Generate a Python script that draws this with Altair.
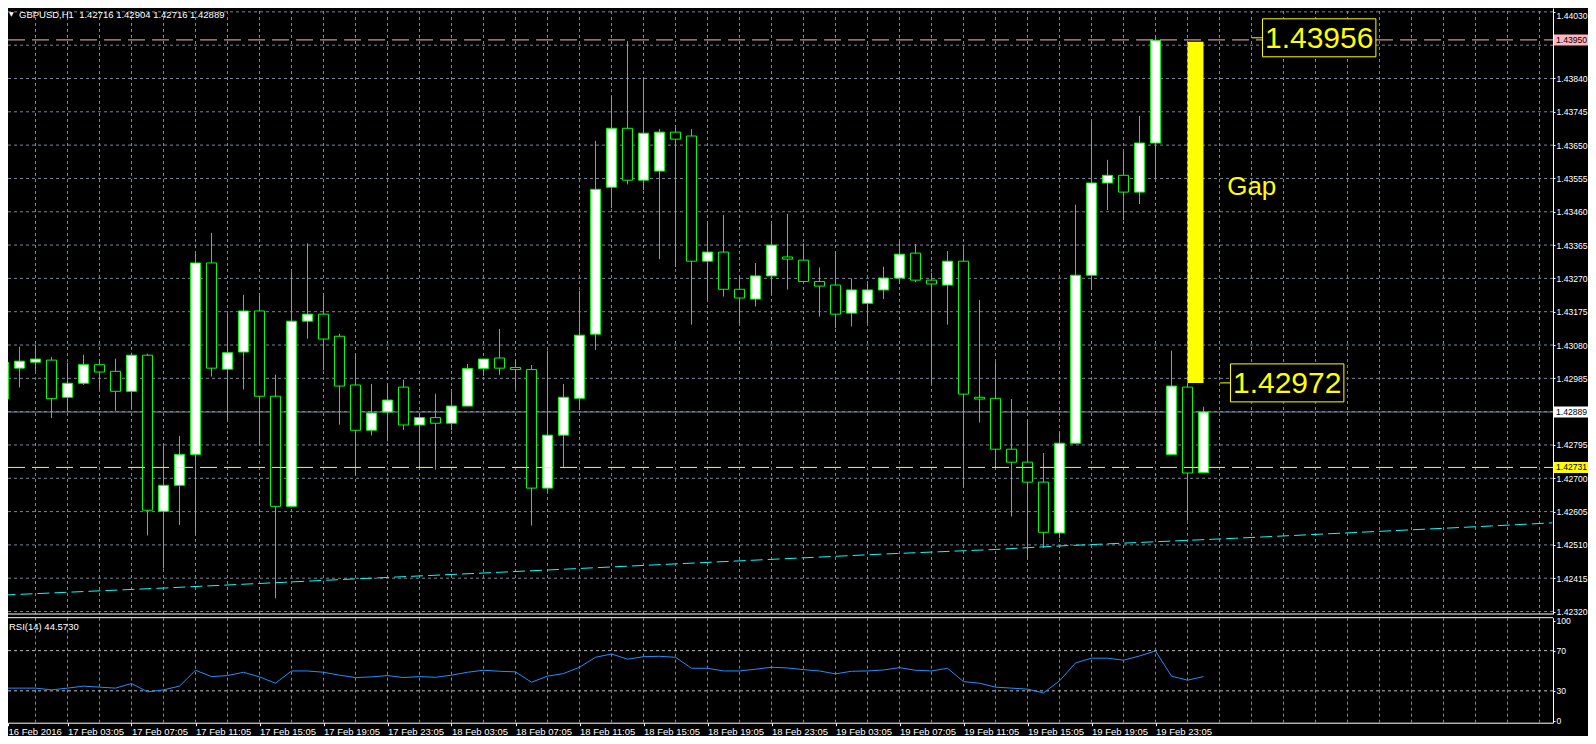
import altair as alt
import pandas as pd

# ---------------- data ----------------
title_text = "GBPUSD,H1\u00a0\u00a01.42716 1.42904 1.42716 1.42889"
rsi_title_text = "RSI(14) 44.5730"

opens = [1.42926, 1.43014, 1.43031, 1.43037, 1.42931, 1.42971, 1.43024, 1.43005, 1.42948, 1.43051,
         1.42606, 1.42680, 1.42768, 1.43314, 1.43011, 1.43060, 1.43177, 1.42934, 1.42620, 1.43148,
         1.43168, 1.43105, 1.42966, 1.42837, 1.42889, 1.42960, 1.42852, 1.42873, 1.42857, 1.42906,
         1.43013, 1.43043, 1.43016, 1.43010, 1.42672, 1.42823, 1.42928, 1.43111, 1.43530, 1.43698,
         1.43550, 1.43576, 1.43687, 1.43676, 1.43319, 1.43345, 1.43239, 1.43211, 1.43277, 1.43331,
         1.43322, 1.43261, 1.43251, 1.43171, 1.43199, 1.43237, 1.43271, 1.43342, 1.43265, 1.43251,
         1.43319, 1.42931, 1.42928, 1.42783, 1.42746, 1.42689, 1.42544, 1.42800, 1.43279, 1.43542,
         1.43564, 1.43516, 1.43656, 1.42768, 1.42960, 1.42716]
highs = [1.43071, 1.43075, 1.43081, 1.43046, 1.43030, 1.43052, 1.43036, 1.43041, 1.43058, 1.43055,
         1.42792, 1.42821, 1.43340, 1.43400, 1.43169, 1.43223, 1.43222, 1.42995, 1.43288, 1.43370,
         1.43223, 1.43112, 1.43054, 1.42969, 1.42969, 1.42981, 1.42886, 1.42941, 1.42946, 1.43026,
         1.43041, 1.43126, 1.43038, 1.43023, 1.43064, 1.42969, 1.43235, 1.43662, 1.43790, 1.43947,
         1.43841, 1.43696, 1.43701, 1.43696, 1.43431, 1.43451, 1.43279, 1.43314, 1.43425, 1.43454,
         1.43370, 1.43301, 1.43347, 1.43270, 1.43254, 1.43303, 1.43376, 1.43368, 1.43286, 1.43348,
         1.43356, 1.43208, 1.43031, 1.42926, 1.42863, 1.42772, 1.42829, 1.43480, 1.43716, 1.43608,
         1.43631, 1.43733, 1.43956, 1.43064, 1.42972, 1.42904]
lows = [1.42895, 1.42959, 1.43006, 1.42872, 1.42890, 1.42966, 1.42955, 1.42892, 1.42898, 1.42537,
        1.42443, 1.42567, 1.42539, 1.42990, 1.42864, 1.42953, 1.42796, 1.42358, 1.42617, 1.43098,
        1.43008, 1.42853, 1.42710, 1.42822, 1.42805, 1.42838, 1.42732, 1.42725, 1.42837, 1.42905,
        1.42992, 1.42995, 1.42955, 1.42565, 1.42662, 1.42732, 1.42895, 1.43066, 1.43470, 1.43538,
        1.43522, 1.43325, 1.43302, 1.43138, 1.43207, 1.43218, 1.43141, 1.43190, 1.43224, 1.43238,
        1.43258, 1.43161, 1.43128, 1.43133, 1.43141, 1.43211, 1.43254, 1.43259, 1.42970, 1.43138,
        1.42676, 1.42859, 1.42732, 1.42591, 1.42470, 1.42501, 1.42529, 1.42798, 1.43237, 1.43465,
        1.43436, 1.43482, 1.43553, 1.42766, 1.42579, 1.42716]
closes = [1.43031, 1.43034, 1.43040, 1.42927, 1.42971, 1.43024, 1.43003, 1.42948, 1.43051, 1.42609,
          1.42680, 1.42768, 1.43314, 1.43014, 1.43058, 1.43177, 1.42934, 1.42620, 1.43148, 1.43168,
          1.43097, 1.42963, 1.42837, 1.42886, 1.42923, 1.42852, 1.42873, 1.42857, 1.42906, 1.43013,
          1.43040, 1.43014, 1.43010, 1.42672, 1.42823, 1.42931, 1.43108, 1.43524, 1.43698, 1.43550,
          1.43684, 1.43687, 1.43667, 1.43319, 1.43345, 1.43239, 1.43214, 1.43277, 1.43365, 1.43325,
          1.43261, 1.43248, 1.43168, 1.43237, 1.43237, 1.43271, 1.43339, 1.43265, 1.43254, 1.43319,
          1.42940, 1.42926, 1.42783, 1.42746, 1.42689, 1.42546, 1.42800, 1.43279, 1.43542, 1.43564,
          1.43516, 1.43656, 1.43949, 1.42963, 1.42715, 1.42889]

rsi = [32.7, 32.7, 32.7, 31.0, 32.7, 34.7, 33.7, 32.7, 37.3, 29.0, 31.0, 34.7,
       50.5, 44.2, 45.2, 48.5, 43.9, 37.6, 49.8, 49.8, 48.5, 45.6, 43.2, 43.9,
       45.2, 43.2, 44.2, 43.5, 45.6, 48.5, 50.5, 49.5, 48.9, 38.6, 44.6, 47.2, 53.5, 63.4,
       66.7, 61.5, 64.0, 64.4, 63.4, 52.5, 52.5, 49.8, 49.8, 51.5, 53.5, 52.8,
       51.1, 49.8, 46.9, 49.5, 49.8, 50.8, 53.1, 50.5, 49.8, 52.5, 39.2, 37.6,
       33.7, 32.7, 31.7, 28.0, 39.9, 57.8, 62.5, 62.5, 60.5, 64.7, 69.7, 44.6, 40.6, 44.2]

ma_idx = [0, 10, 21, 31, 55, 62, 66, 77, 93, 96.8]
ma_val = [1.42367, 1.42387, 1.42411, 1.42432, 1.42484, 1.42497, 1.42507, 1.42529, 1.42564, 1.42573]

time_idx = [0, 4, 8, 12, 16, 20, 24, 28, 32, 36, 40, 44, 48, 52, 56, 60, 64, 68, 72]
time_labels = ["16 Feb 2016", "17 Feb 03:05", "17 Feb 07:05", "17 Feb 11:05", "17 Feb 15:05",
               "17 Feb 19:05", "17 Feb 23:05", "18 Feb 03:05", "18 Feb 07:05", "18 Feb 11:05",
               "18 Feb 15:05", "18 Feb 19:05", "18 Feb 23:05", "19 Feb 03:05", "19 Feb 07:05",
               "19 Feb 11:05", "19 Feb 15:05", "19 Feb 19:05", "19 Feb 23:05"]
price_ticks = [1.44030, 1.43935, 1.43840, 1.43745, 1.43650, 1.43555, 1.43460, 1.43365, 1.43270,
               1.43175, 1.43080, 1.42985, 1.42890, 1.42795, 1.42700, 1.42605, 1.42510, 1.42415, 1.42320]
# labels hidden under the price tags in the reference
covered_ticks = [1.43935, 1.42890]
rsi_ticks = [0, 30, 70, 100]
rsi_levels = [30, 70]
grid_idx = list(range(0, 97, 2))

dash_prices = [1.43950, 1.42731]
dash_colors = ["#FFB6C1", "#FFFF00"]
bid_price = 1.42889

tag_prices = [1.43950, 1.42889, 1.42731]
tag_texts = ["1.43950", "1.42889", "1.42731"]
tag_colors = ["#FFB6C1", "#FFFFFF", "#FFFF00"]

gap_idx = [74, 75]
gap_prices = [1.42972, 1.43945]

ann_texts = ["1.43956", "1.42972"]
ann_prices = [1.43956, 1.42972]
ann_idx = [82.23, 80.23]
ann_lead_from = [78.02, 76.04]
ann_lead_to = [78.69, 76.69]

gap_word = "Gap"
gap_word_idx = 76.48
gap_word_price = 1.43508

# ---------------- layout / style ----------------
W, H = 1580, 728
PLOT_R = 1545
MAIN_B = 606
RSI_T, RSI_B = 609.7, 714.7
BAR_PX = 16
XMIN = 0.28125
XMAX = XMIN + PLOT_R / BAR_PX
PMIN, PMAX = 1.42313, 1.44041
RMIN, RMAX = -1.7, 102.8

FONT = "Liberation Sans"
AXIS_FS = 8.6
GREEN = "#00FF00"
GRID = "#778899"
YELLOW = "#FFFF00"
CYAN = "#00FFFF"

xs = alt.Scale(domain=[XMIN, XMAX], range=[0, PLOT_R], nice=False, zero=False, padding=0)
ys = alt.Scale(domain=[PMIN, PMAX], range=[MAIN_B, 0], nice=False, zero=False, padding=0)
rs = alt.Scale(domain=[RMIN, RMAX], range=[RSI_B, RSI_T], nice=False, zero=False, padding=0)

label_expr = "[" + ",".join("'%s'" % t for t in time_labels) + "][round(datum.value / 4)]"
x_vals = [max(v, XMIN) for v in time_idx]
x_axis = alt.Axis(orient="bottom", offset=RSI_B - H, values=x_vals, labelExpr=label_expr,
                  labelAlign="left", labelBaseline="top", labelPadding=1, labelColor="white",
                  labelFont=FONT, labelFontSize=9.5, labelOverlap=False, labelFlush=False,
                  tickColor="white", tickSize=3, domainColor="white", grid=False, title=None)
p_axis = alt.Axis(orient="right", offset=PLOT_R - W,
                  values=[v for v in price_ticks if v not in covered_ticks], format=".5f",
                  labelColor="white", labelFont=FONT, labelFontSize=AXIS_FS, labelPadding=1,
                  labelBaseline=alt.condition("datum.value > 1.4400", alt.value("top"), alt.value("middle")),
                  labelOverlap=False, labelFlush=False, tickColor="white", tickSize=2,
                  domainColor="white", grid=False, title=None)
r_axis = alt.Axis(orient="right", offset=PLOT_R - W, values=rsi_ticks, format="d",
                  labelColor="white", labelFont=FONT, labelFontSize=AXIS_FS, labelPadding=1,
                  labelOverlap=False, labelFlush=True, tickColor="white", tickSize=2,
                  domainColor="white", grid=False, title=None)

X = alt.X("i:Q", scale=xs, axis=x_axis)


def PY(f):
    return alt.Y(f + ":Q", scale=ys, axis=p_axis)


def RY(f):
    return alt.Y(f + ":Q", scale=rs, axis=r_axis)


# ---------------- frames ----------------
candles = pd.DataFrame({"i": list(range(len(opens))), "o": opens, "h": highs, "l": lows, "c": closes})
candles["kind"] = ["up" if c >= o else "down" for o, c in zip(opens, closes)]

hgrid = pd.DataFrame({"p": price_ticks, "i": XMIN, "i2": XMAX})
vgrid = pd.DataFrame({"i": grid_idx, "p": PMIN, "p2": PMAX})
bid = pd.DataFrame({"i": [XMIN], "i2": [XMAX], "p": [bid_price]})
ma = pd.DataFrame({"i": ma_idx, "ma": ma_val})
dashes = pd.DataFrame({"i": XMIN, "i2": XMAX, "p": dash_prices, "col": dash_colors})
gap = pd.DataFrame({"i": [gap_idx[0]], "i2": [gap_idx[1]], "p": [gap_prices[0]], "p2": [gap_prices[1]]})
ann = pd.DataFrame({"i": ann_idx, "p": ann_prices, "t": ann_texts})
lead = pd.DataFrame({"i": ann_lead_from, "i2": ann_lead_to, "p": ann_prices})
gapw = pd.DataFrame({"i": [gap_word_idx], "p": [gap_word_price], "t": [gap_word]})
tags = pd.DataFrame({"p": tag_prices, "t": tag_texts, "col": tag_colors})
border = pd.DataFrame({"i": [XMIN], "i2": [XMAX], "p": [PMIN]})
ttl = pd.DataFrame({"t": [title_text]})
tri = pd.DataFrame({"t": ["\u25bc"]})

rsi_df = pd.DataFrame({"i": list(range(len(rsi))), "r": rsi})
rvgrid = pd.DataFrame({"i": grid_idx, "r": RMIN, "r2": RMAX})
rlev = pd.DataFrame({"i": XMIN, "i2": XMAX, "r": rsi_levels})
rtop = pd.DataFrame({"i": [XMIN], "i2": [XMAX], "r": [RMAX]})
rttl = pd.DataFrame({"t": [rsi_title_text]})

# ---------------- main panel ----------------
l_hgrid = alt.Chart(hgrid).mark_rule(color=GRID, strokeDash=[3, 3], strokeWidth=1).encode(
    x=X, x2="i2:Q", y=PY("p"))
l_vgrid = alt.Chart(vgrid).mark_rule(color=GRID, strokeDash=[3, 3], strokeWidth=1).encode(
    x=X, y=PY("p"), y2="p2:Q")
l_bid = alt.Chart(bid).mark_rule(color=GRID, strokeWidth=1).encode(x=X, x2="i2:Q", y=PY("p"))
l_wick = alt.Chart(candles).mark_rule(color=GREEN, strokeWidth=1).encode(x=X, y=PY("l"), y2="h:Q")
l_body = alt.Chart(candles).mark_bar(size=10, stroke=GREEN, strokeWidth=1, opacity=1).encode(
    x=X, y=PY("o"), y2="c:Q",
    fill=alt.Fill("kind:N", scale=alt.Scale(domain=["up", "down"], range=["white", "black"]), legend=None))
l_ma = alt.Chart(ma).mark_line(color=CYAN, strokeDash=[12, 5], strokeWidth=1).encode(x=X, y=PY("ma"))
l_dash = alt.Chart(dashes).mark_rule(strokeDash=[17, 7], strokeWidth=1).encode(
    x=X, x2="i2:Q", y=PY("p"), color=alt.Color("col:N", scale=None))
l_gap = alt.Chart(gap).mark_rect(color=YELLOW, opacity=1).encode(x=X, x2="i2:Q", y=PY("p"), y2="p2:Q")
l_lead = alt.Chart(lead).mark_rule(color=YELLOW, strokeWidth=1).encode(x=X, x2="i2:Q", y=PY("p"))
l_annbox = alt.Chart(ann).mark_point(shape="M-1,-0.335H1V0.335H-1Z", size=113.4 ** 2, fill="black",
                                     stroke=YELLOW, strokeWidth=1, opacity=1, filled=False).encode(
    x=X, y=PY("p"))
l_anntxt = alt.Chart(ann).mark_text(font=FONT, fontSize=30, color=YELLOW, align="center",
                                    baseline="middle", dy=1).encode(x=X, y=PY("p"), text="t:N")
l_gapw = alt.Chart(gapw).mark_text(font=FONT, fontSize=26, color=YELLOW, align="left",
                                   baseline="alphabetic").encode(x=X, y=PY("p"), text="t:N")
l_tagbox = alt.Chart(tags).mark_point(shape="M-1,-0.262H1V0.262H-1Z", size=42 ** 2, filled=True,
                                      opacity=1, strokeWidth=0).encode(
    x=alt.value(1567), y=PY("p"), fill=alt.Fill("col:N", scale=None))
l_tagtxt = alt.Chart(tags).mark_text(font=FONT, fontSize=AXIS_FS, color="black", align="left",
                                     baseline="middle").encode(x=alt.value(1548), y=PY("p"), text="t:N")
l_border = alt.Chart(border).mark_rule(color="white", strokeWidth=1).encode(x=X, x2="i2:Q", y=PY("p"))
l_title = alt.Chart(ttl).mark_text(font=FONT, fontSize=9.5, color="white", align="left",
                                   baseline="alphabetic").encode(x=alt.value(11), y=alt.value(10), text="t:N")
l_tri = alt.Chart(tri).mark_text(font="DejaVu Sans", fontSize=6, color="white", align="left",
                                 baseline="alphabetic").encode(x=alt.value(1), y=alt.value(8), text="t:N")

main = alt.layer(l_hgrid, l_vgrid, l_bid, l_wick, l_body, l_ma, l_dash, l_gap, l_lead, l_annbox,
                 l_anntxt, l_gapw, l_tagbox, l_tagtxt, l_border, l_title, l_tri)

# ---------------- RSI panel ----------------
r_vgrid = alt.Chart(rvgrid).mark_rule(color=GRID, strokeDash=[3, 3], strokeWidth=1).encode(
    x=X, y=RY("r"), y2="r2:Q")
r_lev = alt.Chart(rlev).mark_rule(color="#C0C0C0", strokeDash=[3, 3], strokeWidth=1).encode(
    x=X, x2="i2:Q", y=RY("r"))
r_top = alt.Chart(rtop).mark_rule(color="white", strokeWidth=1).encode(x=X, x2="i2:Q", y=RY("r"))
r_line = alt.Chart(rsi_df).mark_line(color="#1E90FF", strokeWidth=1).encode(x=X, y=RY("r"))
r_title = alt.Chart(rttl).mark_text(font=FONT, fontSize=9.5, color="white", align="left",
                                    baseline="alphabetic").encode(x=alt.value(1), y=alt.value(621.5), text="t:N")

rsi_panel = alt.layer(r_vgrid, r_lev, r_top, r_line, r_title)

chart = alt.layer(main, rsi_panel).resolve_scale(y="independent").properties(
    width=W, height=H, padding=0, background="black",
    autosize=alt.AutoSizeParams(type="none")
).configure_view(stroke=None)

chart.save("out.html", embed_options={"renderer": "svg", "actions": False})
